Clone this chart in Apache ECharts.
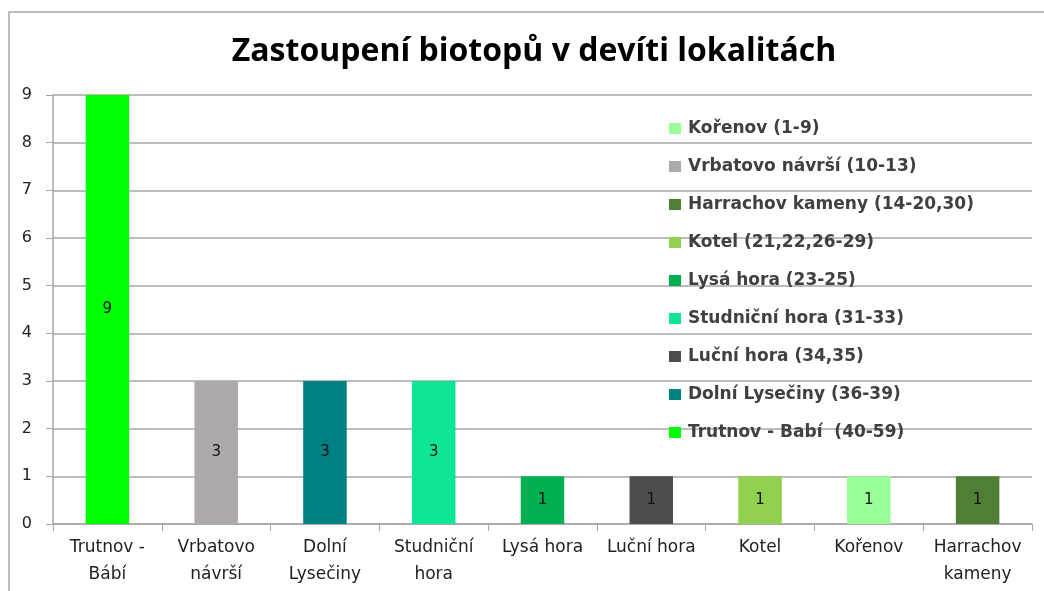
<!DOCTYPE html>
<html lang="cs">
<head>
<meta charset="utf-8">
<script src="https://cdn.jsdelivr.net/npm/echarts@6/dist/echarts.min.js"></script>
<style>
  html, body { margin: 0; padding: 0; background: #fff; }
  #main { width: 1044px; height: 591px; }
</style>
</head>
<body>
<div id="main"></div>
<script type="text/javascript">
  var categories = ['Trutnov -\nBábí', 'Vrbatovo\nnávrší', 'Dolní\nLysečiny', 'Studniční\nhora',
    'Lysá hora', 'Luční hora', 'Kotel', 'Kořenov', 'Harrachov\nkameny'];
  var values = [9, 3, 3, 3, 1, 1, 1, 1, 1];

  // legend order, with the category each one belongs to
  var seriesNames = ['Kořenov (1-9)', 'Vrbatovo návrší (10-13)', 'Harrachov kameny (14-20,30)',
    'Kotel (21,22,26-29)', 'Lysá hora (23-25)', 'Studniční hora (31-33)', 'Luční hora (34,35)',
    'Dolní Lysečiny (36-39)', 'Trutnov - Babí  (40-59)'];
  var seriesCategory = [7, 1, 8, 6, 4, 3, 5, 2, 0];
  var seriesColors = ['#99ff99', '#aeaaaa', '#4f7f35', '#92d050', '#00b050', '#0ee696', '#4d4d4d', '#008080', '#00ff00'];

  var series = seriesNames.map(function(name, i) {
    var data = categories.map(function(c, j) {
      return j === seriesCategory[i] ? values[j] : '-';
    });
    return {
      name: name,
      type: 'bar',
      stack: 'all',
      barWidth: '40%',
      data: data,
      itemStyle: { color: seriesColors[i] },
      label: {
        show: true,
        position: 'inside',
        color: '#111',
        fontSize: 15,
        fontFamily: 'DejaVu Sans'
      }
    };
  });

  var chart = echarts.init(document.getElementById('main'));
  chart.setOption({
    animation: false,
    backgroundColor: '#fff',
    graphic: [{
      type: 'rect',
      shape: { x: 9, y: 12, width: 1060, height: 600 },
      style: { fill: 'none', stroke: '#a6a6a6', lineWidth: 1.5 },
      silent: true
    }],
    title: {
      text: 'Zastoupení biotopů v devíti lokalitách',
      left: 529,
      textAlign: 'center',
      top: 31,
      textStyle: { fontSize: 32, fontWeight: 'bold', color: '#000', fontFamily: 'Open Sans' }
    },
    legend: {
      orient: 'vertical',
      left: 664,
      top: 115,
      itemWidth: 12,
      itemHeight: 11,
      itemGap: 21,
      icon: 'rect',
      data: seriesNames,
      textStyle: {
        fontSize: 17, lineHeight: 16, fontWeight: 'bold', color: '#404040',
        fontFamily: 'DejaVu Sans', padding: [0, 0, 0, 2]
      }
    },
    grid: { left: 53, right: 12, top: 95, bottom: 67 },
    xAxis: {
      type: 'category',
      data: categories,
      axisLine: { lineStyle: { color: '#a6a6a6', width: 1.5 } },
      axisTick: { show: true, length: 7, lineStyle: { color: '#a6a6a6' } },
      axisLabel: { color: '#222', fontSize: 17, fontFamily: 'DejaVu Sans', margin: 10, lineHeight: 27, interval: 0 }
    },
    yAxis: {
      type: 'value',
      min: 0,
      max: 9,
      interval: 1,
      axisLine: { show: true, lineStyle: { color: '#a6a6a6', width: 1.5 } },
      axisTick: { show: true, length: 7, lineStyle: { color: '#a6a6a6' } },
      axisLabel: { color: '#222', fontSize: 16, fontFamily: 'DejaVu Sans', margin: 21 },
      splitLine: { lineStyle: { color: '#a6a6a6', width: 1.5 } }
    },
    series: series
  });
</script>
</body>
</html>
